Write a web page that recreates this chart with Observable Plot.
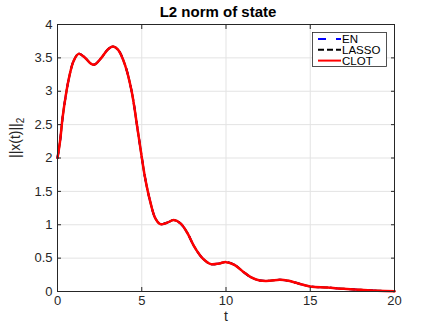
<!DOCTYPE html>
<html>
<head>
<meta charset="utf-8">
<script src="https://cdn.jsdelivr.net/npm/d3@7"></script>
<script src="https://cdn.jsdelivr.net/npm/@observablehq/plot@0.6"></script>
<style>
  body { margin: 0; background: #fff; }
  #wrap { position: relative; width: 436px; height: 327px; font-family: "Liberation Sans", Arial, sans-serif; }
  #title { position: absolute; left: 0; width: 436px; top: 3px; text-align: center; font-weight: bold; font-size: 15px; color: #000; }
  #legend { position: absolute; left: 312px; top: 32px; }
</style>
</head>
<body>
<div id="wrap">
  <div id="chart"></div>
  <div id="title">L2 norm of state</div>
  <div id="legend"></div>
</div>
<script>
const t = [0, 0.15, 0.3, 0.5, 0.7, 0.95, 1.25, 1.6, 2.0, 2.2, 2.6, 3.0, 3.3, 3.6, 4.0, 4.4, 4.8, 5.2, 5.5, 5.8, 6.1, 6.5, 6.9, 7.3, 7.7, 8.1, 8.6, 9.1, 9.6, 10.0, 10.5, 11.0, 11.5, 12.0, 12.6, 13.2, 13.7, 14.3, 15.0, 16.0, 17.0, 18.0, 19.0, 20.0];
const clot = [2.0, 2.25, 2.6, 2.95, 3.22, 3.45, 3.56, 3.51, 3.41, 3.40, 3.50, 3.63, 3.67, 3.62, 3.40, 3.00, 2.35, 1.70, 1.35, 1.10, 1.01, 1.03, 1.07, 1.02, 0.88, 0.68, 0.50, 0.41, 0.42, 0.44, 0.40, 0.30, 0.21, 0.165, 0.16, 0.175, 0.16, 0.12, 0.075, 0.06, 0.04, 0.025, 0.012, 0.005];
const en = [2.0, 2.25, 2.6, 2.95, 3.22, 3.45, 3.56, 3.51, 3.41, 3.40, 3.50, 3.63, 3.67, 3.62, 3.40, 3.00, 2.35, 1.70, 1.35, 1.10, 1.01, 1.03, 1.07, 1.02, 0.88, 0.68, 0.50, 0.41, 0.42, 0.44, 0.40, 0.30, 0.21, 0.165, 0.16, 0.175, 0.16, 0.12, 0.075, 0.06, 0.04, 0.025, 0.012, 0.005];
const lasso = [2.0, 2.25, 2.6, 2.95, 3.22, 3.45, 3.56, 3.51, 3.41, 3.40, 3.50, 3.63, 3.67, 3.62, 3.40, 3.00, 2.35, 1.70, 1.35, 1.10, 1.01, 1.03, 1.07, 1.02, 0.88, 0.68, 0.50, 0.41, 0.42, 0.44, 0.40, 0.30, 0.21, 0.165, 0.16, 0.175, 0.16, 0.12, 0.075, 0.06, 0.04, 0.025, 0.012, 0.005];
const xTicks = [0, 5, 10, 15, 20];
const yTicks = [0, 0.5, 1, 1.5, 2, 2.5, 3, 3.5, 4];
const series = [
  {name: "EN", values: en, color: "#0000ff", dash: "8,10"},
  {name: "LASSO", values: lasso, color: "#000000", dash: "6,3"},
  {name: "CLOT", values: clot, color: "#ff0000", dash: null}
];
const rows = series.flatMap(s => t.map((tt, i) => ({t: tt, v: s.values[i], s: s.name})));
const ink = "#262626";
const chart = Plot.plot({
  width: 436, height: 327,
  marginLeft: 57, marginRight: 42, marginTop: 24, marginBottom: 36,
  style: {fontFamily: "'Liberation Sans', Arial, sans-serif", fontSize: "13px", color: ink, background: "#fff"},
  x: {domain: [0, 20], ticks: xTicks, label: null},
  y: {domain: [0, 4], ticks: yTicks, label: null},
  marks: [
    Plot.gridX(xTicks, {stroke: "#e3e3e3", strokeOpacity: 1}),
    Plot.gridY(yTicks, {stroke: "#e3e3e3", strokeOpacity: 1}),
    ...series.map(s => Plot.line(rows.filter(r => r.s === s.name), {
      x: "t", y: "v", stroke: s.color, strokeWidth: s.name === "CLOT" ? 2.5 : 2,
      strokeDasharray: s.dash, curve: "catmull-rom"
    })),
    Plot.axisX(xTicks, {anchor: "bottom", tickSize: 0, tickPadding: 4, fontSize: 13, fill: ink}),
    Plot.axisX(xTicks, {anchor: "bottom", tickSize: -4, tickFormat: () => "", stroke: ink}),
    Plot.axisX(xTicks, {anchor: "top", tickSize: -4, tickFormat: () => "", stroke: ink}),
    Plot.axisY(yTicks, {anchor: "left", tickSize: 0, tickPadding: 5, fontSize: 13, fill: ink, tickFormat: d => String(d)}),
    Plot.axisY(yTicks, {anchor: "left", tickSize: -4, tickFormat: () => "", stroke: ink}),
    Plot.axisY(yTicks, {anchor: "right", tickSize: -4, tickFormat: () => "", stroke: ink}),
    Plot.frame({stroke: ink}),
    Plot.text(["t"], {frameAnchor: "bottom", dy: 29, fontSize: 14, fill: ink}),
    Plot.text(["||x(t)||"], {frameAnchor: "left", dx: -42, rotate: -90, fontSize: 14, fill: ink})
  ]
});
document.getElementById("chart").appendChild(chart);

// subscript "2" on the y label
const ylab = Array.from(chart.querySelectorAll("text")).find(n => n.textContent === "||x(t)||");
if (ylab) {
  ylab.textContent = "";
  const a = document.createElementNS("http://www.w3.org/2000/svg", "tspan");
  a.textContent = "||x(t)||";
  const b = document.createElementNS("http://www.w3.org/2000/svg", "tspan");
  b.textContent = "2"; b.setAttribute("font-size", "10"); b.setAttribute("dy", "4");
  ylab.appendChild(a); ylab.appendChild(b);
}

// legend
const lg = d3.select("#legend").append("svg").attr("width", 76).attr("height", 36);
lg.append("rect").attr("x", 0.5).attr("y", 0.5).attr("width", 74).attr("height", 34)
  .attr("fill", "#fff").attr("stroke", ink).attr("stroke-width", 0.8);
series.forEach((s, i) => {
  const y = 7 + i * 10.8;
  lg.append("line").attr("x1", 6).attr("x2", 29).attr("y1", y).attr("y2", y)
    .attr("stroke", s.color).attr("stroke-width", 2).attr("stroke-dasharray", s.dash);
  lg.append("text").attr("x", 30).attr("y", y).attr("dy", "0.36em")
    .attr("font-size", 11.5).attr("fill", "#000").text(s.name);
});
</script>
</body>
</html>
